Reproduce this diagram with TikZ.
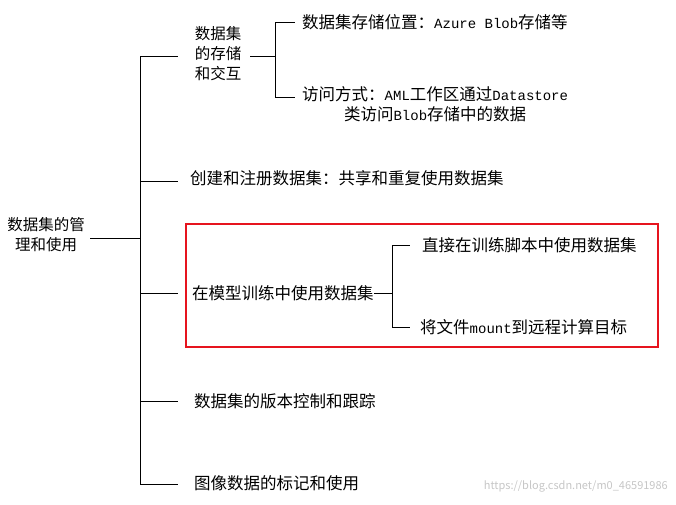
\documentclass[tikz,border=0pt]{standalone}
\usepackage{fontspec}
\setmainfont{Noto Sans CJK SC}
\newfontfamily\monof{Liberation Mono}
\newcommand{\lat}[1]{{\monof\fontsize{14}{19}\selectfont #1}}
\begin{document}
\begin{tikzpicture}[x=1pt,y=-1pt,font=\fontsize{16.5}{20}\selectfont,
  txt/.style={anchor=west,inner sep=0pt,align=left},
  ln/.style={draw=black,line width=0.6pt}]
\useasboundingbox (0,0) rectangle (676,504);
\node[inner sep=0pt,align=center,font=\fontsize{15.5}{20}\selectfont] (root) at (46,235) {数据集的管\\理和使用};
\coordinate (r1) at (90,238); \coordinate (r2) at (140,238);
\draw[ln] (r1) -- (r2);
\draw[ln] (140,56) -- (140,484);
\foreach \y in {56,181,293,401,484} \draw[ln] (140,\y) -- (178,\y);
% branch 1
\node[inner sep=0pt,align=center,font=\fontsize{15.5}{20}\selectfont] (b1) at (218,54) {数据集\\的存储\\和交互};
\draw[ln] (250,56) -- (275,56);
\draw[ln] (275,22) -- (275,97);
\draw[ln] (275,22) -- (295,22);
\draw[ln] (275,97) -- (295,97);
\node[txt] (b11) at (302,22) {数据集存储位置：\lat{Azure Blob}存储等};
\node[inner sep=0pt,align=center,anchor=west] (b12) at (302,104) {访问方式：\lat{AML}工作区通过\lat{Datastore}\\类访问\lat{Blob}存储中的数据};
% branch 2
\node[txt] (b2) at (190,178) {创建和注册数据集：共享和重复使用数据集};
% branch 3
\draw[draw={rgb,255:red,230;green,20;blue,30},line width=2.6pt] (186,224) rectangle (658,347);
\node[txt] (b3) at (192,293) {在模型训练中使用数据集};
\draw[ln] (b3.east) -- (392,293);
\draw[ln] (392,245) -- (392,327);
\draw[ln] (392,245) -- (410,245);
\draw[ln] (392,327) -- (410,327);
\node[txt] (b31) at (422,245) {直接在训练脚本中使用数据集};
\node[txt] (b32) at (420,327) {将文件\lat{mount}到远程计算目标};
% branch 4,5
\node[txt] (b4) at (194,401) {数据集的版本控制和跟踪};
\node[txt] (b5) at (194,483) {图像数据的标记和使用};
\node[anchor=east,inner sep=0pt,text=gray!45,font=\fontsize{11}{12}\selectfont] (wm) at (668,486) {https://blog.csdn.net/m0\_46591986};
\end{tikzpicture}
\end{document}
